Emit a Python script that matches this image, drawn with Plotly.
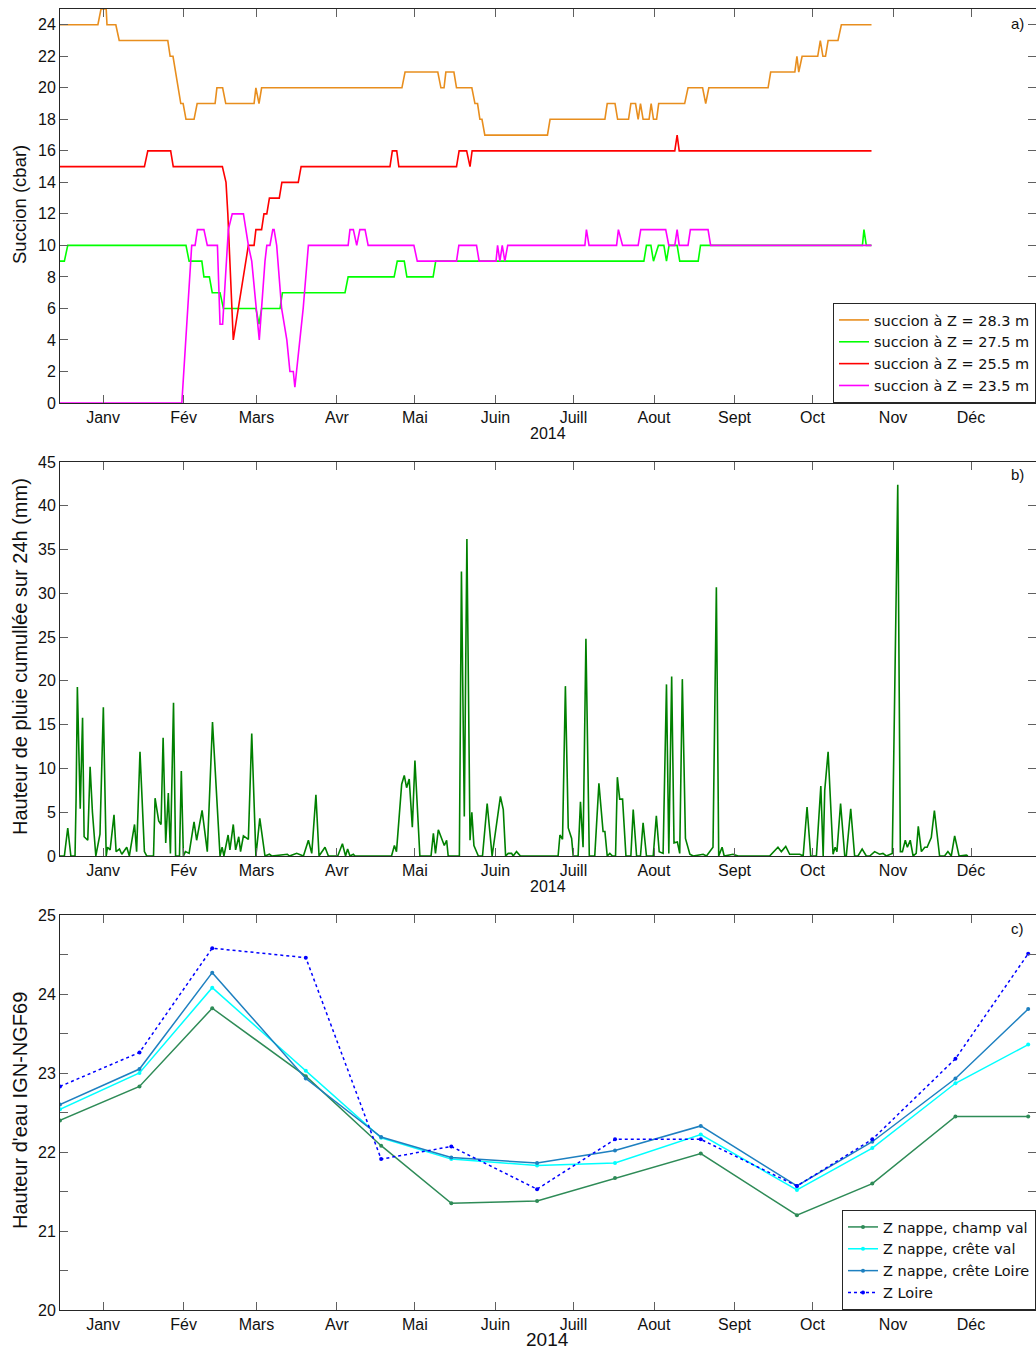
import plotly.graph_objects as go
import pandas as pd

BASE = pd.Timestamp("2014-01-01")

# ---------------- Panel a : succion (day offsets from 2014-01-01, values in cbar)
s283_day = [-16.8, -2.0, -0.8, 1.2, 1.5, 4.9, 6.2, 24.9, 25.8, 26.9, 29.9, 30.8, 31.9, 35.0, 36.2, 43.1, 43.8,
            46.0, 47.2, 58.1, 58.8, 60.0, 61.0, 115.0, 116.2, 128.8, 130.0, 131.2, 131.9, 135.0, 136.0, 141.9,
            143.1, 144.1, 145.0, 145.8, 146.9, 171.0, 172.0, 193.1, 194.0, 197.0, 198.0, 202.2, 203.1, 204.9,
            205.9, 206.8, 207.8, 210.1, 210.9, 211.8, 213.0, 213.8, 223.8, 225.1, 230.7, 231.9, 233.1, 255.9,
            256.9, 266.2, 267.0, 267.7, 269.0, 275.0, 276.0, 277.0, 278.0, 279.0, 282.8, 284.1, 295.7]
s283_val = [24, 24, 25, 25, 24, 24, 23, 23, 22, 22, 19, 19, 18, 18, 19, 19, 20,
            20, 19, 19, 20, 19, 20, 20, 21, 21, 20, 20, 21, 21, 20, 20,
            19, 19, 18, 18, 17, 17, 18, 18, 19, 19, 18, 18, 19, 19,
            18, 19, 18, 18, 19, 18, 18, 19, 19, 20, 20, 19, 20, 20,
            21, 21, 22, 21, 22, 22, 23, 22, 22, 23, 23, 24, 24]

s275_day = [-16.8, -14.9, -13.6, 31.9, 33.1, 38.0, 38.8, 40.9, 42.0, 45.0, 46.3, 58.8, 60.0, 61.0, 68.1, 69.0,
            93.1, 94.3, 112.0, 113.2, 115.9, 116.9, 127.0, 128.0, 208.1, 209.1, 210.8, 211.8, 213.7, 215.8,
            216.8, 217.8, 220.9, 221.9, 229.0, 229.9, 292.2, 292.8, 293.7, 295.7]
s275_val = [9, 9, 10, 10, 9, 9, 8, 8, 7, 7, 6, 6, 5, 6, 6, 7,
            7, 8, 8, 9, 9, 8, 8, 9, 9, 10, 10, 9, 10, 10,
            9, 10, 10, 9, 9, 10, 10, 11, 10, 10]

s255_day = [-16.8, 15.9, 17.2, 26.0, 27.0, 45.9, 47.3, 48.0, 50.1, 55.9, 58.1, 58.8, 61.0, 61.9, 63.0, 64.0,
            67.8, 68.8, 75.1, 76.2, 110.4, 111.3, 113.0, 113.8, 136.0, 137.0, 139.9, 141.2, 142.0, 220.0,
            220.9, 221.7, 295.7]
s255_val = [15, 15, 16, 16, 15, 15, 14, 12, 4, 10, 10, 11, 11, 12, 12, 13,
            13, 14, 14, 15, 15, 16, 16, 15, 15, 16, 16, 15, 16, 16,
            17, 16, 16]

s235_day = [-16.8, 30.3, 34.1, 35.4, 36.3, 38.8, 40.1, 44.0, 45.0, 46.0, 48.2, 49.7, 54.0, 55.9, 57.2, 60.1,
            62.3, 63.0, 64.2, 65.3, 65.8, 66.8, 68.7, 70.7, 71.9, 73.2, 73.8, 75.8, 77.0, 79.0, 94.3, 95.0,
            96.3, 97.6, 98.8, 100.8, 102.0, 119.6, 120.9, 136.0, 136.9, 143.7, 144.7, 151.2, 151.8, 152.7,
            153.6, 154.6, 155.7, 185.4, 186.0, 187.0, 197.6, 198.3, 199.9, 205.9, 206.9, 216.5, 217.7, 220.0,
            220.9, 221.7, 225.1, 226.0, 232.8, 233.8, 295.7]
s235_val = [0, 0, 10, 10, 11, 11, 10, 10, 5, 5, 11, 12, 12, 10, 9, 4,
            9, 10, 10, 11, 11, 10, 6, 4, 2, 2, 1, 4, 6, 10, 10, 11,
            11, 10, 11, 11, 10, 10, 9, 9, 10, 10, 9, 9, 10, 9,
            10, 9, 10, 10, 11, 10, 10, 11, 10, 10, 11, 11, 10, 10,
            11, 10, 10, 11, 11, 10, 10]

suction_names = ["succion à Z = 28.3 m", "succion à Z = 27.5 m", "succion à Z = 25.5 m", "succion à Z = 23.5 m"]

# ---------------- Panel b : daily rain (day offsets from 2014-01-01, mm)
rain_day = [-16.8, -14.9, -13.6, -12.4, -10.8, -10.4, -9.9, -9.5, -8.8, -7.9, -7.3, -5.9, -5.0, -4.1, -2.8,
            -1.2, 0.1, 1.2, 1.7, 2.7, 4.2, 5.0, 6.3, 7.2, 9.1, 10.1, 12.1, 12.9, 14.2, 15.9, 16.8, 19.4, 20.0,
            21.4, 22.3, 23.1, 24.1, 25.1, 25.9, 27.1, 27.9, 29.4, 30.1, 30.9, 31.7, 33.1, 35.0, 36.0, 38.1,
            40.1, 42.1, 45.0, 45.8, 46.5, 48.1, 48.8, 50.1, 51.0, 52.2, 52.9, 54.0, 55.9, 57.2, 58.8, 60.3,
            62.3, 64.0, 64.9, 70.9, 71.7, 74.5, 77.1, 79.0, 80.3, 81.9, 83.1, 85.4, 86.7, 90.3, 92.1, 93.3,
            94.1, 95.0, 96.3, 96.9, 111.0, 112.1, 112.9, 114.9, 115.9, 116.8, 117.8, 119.0, 120.0, 121.9,
            126.2, 127.1, 127.9, 129.0, 131.3, 132.2, 132.8, 137.1, 137.9, 139.0, 140.0, 141.2, 141.9, 142.7,
            144.4, 146.0, 147.8, 149.7, 152.9, 154.0, 154.9, 155.9, 157.2, 157.8, 159.1, 160.6, 175.1, 175.8,
            176.8, 177.9, 179.0, 180.3, 180.9, 182.8, 183.7, 184.7, 185.8, 187.1, 189.2, 190.8, 192.4, 193.1,
            194.0, 195.0, 196.0, 197.2, 197.9, 198.8, 199.9, 201.2, 203.1, 204.0, 205.3, 206.8, 207.8, 209.1,
            211.7, 212.9, 214.0, 215.5, 216.8, 217.7, 218.8, 219.7, 221.0, 221.9, 222.9, 224.1, 225.8, 227.1,
            230.9, 232.2, 234.7, 236.0, 236.9, 238.2, 239.0, 242.4, 244.4, 256.5, 259.7, 261.0, 262.7, 264.2,
            268.1, 269.4, 270.9, 272.3, 274.5, 276.2, 277.1, 277.7, 279.0, 279.9, 280.9, 281.7, 282.4, 283.8,
            285.4, 286.0, 287.7, 289.2, 290.5, 292.1, 293.7, 295.0, 296.9, 298.8, 300.1, 301.4, 303.7, 305.3,
            305.8, 306.8, 307.6, 308.7, 309.5, 310.6, 311.7, 312.9, 313.7, 314.9, 316.2, 317.1, 318.7, 319.9,
            321.9, 323.8, 325.1, 326.4, 327.7, 329.4, 332.2, 332.8]
rain_mm = [0, 0, 3.2, 0, 0, 6.4, 19.3, 13.0, 5.4, 15.8, 2.2, 1.8, 10.2, 5.0, 0,
           2.5, 17.0, 0, 1.0, 0.7, 4.7, 0.5, 0.8, 0.2, 1.0, 0, 3.6, 0.5, 11.9, 0.5, 0, 0, 6.6,
           4.0, 3.6, 13.5, 1.5, 7.2, 0.3, 17.5, 0, 0, 9.7, 0, 0.5, 0.3, 3.9, 1.8, 5.2,
           0.5, 15.3, 0, 1.0, 0, 2.4, 0.7, 3.6, 0.7, 2.2, 0.5, 2.3, 1.9, 14.0, 0, 4.3,
           0, 0.2, 0, 0.2, 0, 0.3, 0, 1.8, 0.3, 7.0, 0, 1.0, 0, 0, 1.4, 0,
           0.8, 0, 0.2, 0, 0, 1.2, 0.5, 8.2, 9.2, 7.8, 8.8, 3.3, 10.9, 0,
           0, 2.6, 0.3, 3.0, 1.2, 1.8, 0, 0, 32.5, 4.5, 36.2, 1.8, 5.0, 1.2,
           0, 0, 6.0, 0, 6.8, 5.3, 0, 0.3, 0.3, 0, 0.5, 0, 0, 2.4,
           1.9, 19.4, 3.2, 2.0, 0, 0, 6.2, 1.0, 24.8, 0, 0, 8.3, 2.8, 2.8,
           0, 0.3, 0, 0, 9.0, 6.5, 6.5, 0, 0, 5.3, 0, 0, 3.8, 0,
           0, 4.6, 0.5, 0.3, 19.6, 0.3, 20.5, 1.5, 1.6, 0.3, 20.2, 2.0, 0.2, 0,
           0.2, 0, 1.0, 30.7, 0, 1.0, 0, 0.2, 0, 0, 1.0, 0.5, 1.1, 0.2,
           0.2, 0, 5.6, 0, 0, 8.0, 0, 7.5, 11.9, 7.0, 0.2, 1.0, 0.5, 6.0,
           0, 0, 5.4, 0, 0, 0.8, 0, 0, 0.5, 0.2, 0.3, 0, 0.3, 32.0,
           42.4, 0.5, 0.5, 1.8, 1.0, 1.8, 0, 0.3, 3.4, 0.5, 1.0, 1.0, 2.1, 5.2,
           0, 0, 0.5, 0, 2.3, 0, 0.1, 0]

# ---------------- Panel c : water levels (IGN-NGF69)
lvl_dates = ["2013-12-15 10:00", "2014-01-15 00:00", "2014-02-12 00:00", "2014-03-20 00:00",
             "2014-04-18 00:00", "2014-05-15 00:00", "2014-06-17 00:00", "2014-07-17 00:00",
             "2014-08-19 00:00", "2014-09-25 00:00", "2014-10-24 00:00", "2014-11-25 00:00", "2014-12-23 00:00"]
champ_val = [22.40, 22.83, 23.82, 22.96, 22.08, 21.35, 21.38, 21.67, 21.98, 21.20, 21.60, 22.45, 22.45]
crete_val = [22.54, 23.00, 24.08, 23.03, 22.18, 21.91, 21.83, 21.86, 22.22, 21.52, 22.05, 22.87, 23.36]
crete_loire = [22.60, 23.05, 24.27, 22.93, 22.19, 21.93, 21.86, 22.02, 22.33, 21.57, 22.13, 22.93, 23.81]
z_loire = [22.83, 23.26, 24.58, 24.46, 21.91, 22.07, 21.53, 22.16, 22.16, 21.57, 22.16, 23.18, 24.51]

month_ticks = ["2014-%02d-01" % m for m in range(1, 13)]
month_labels = ["Janv", "Fév", "Mars", "Avr", "Mai", "Juin", "Juill", "Aout", "Sept", "Oct", "Nov", "Déc"]


def to_dates(days):
    return [BASE + pd.Timedelta(days=float(d)) for d in days]


FONT = "Liberation Sans, Arial, sans-serif"
LEG_FONT = "DejaVu Sans, Liberation Sans, sans-serif"
W, H = 1036, 1349

fig = go.Figure()

# panel a
for d, v, name, col in zip([s283_day, s275_day, s255_day, s235_day],
                           [s283_val, s275_val, s255_val, s235_val],
                           suction_names,
                           ["#E88E1E", "#00FF00", "#FF0000", "#FF00FF"]):
    fig.add_trace(go.Scatter(x=to_dates(d), y=v, mode="lines", name=name,
                             line=dict(color=col, width=1.6), xaxis="x", yaxis="y", legend="legend"))

# panel b
fig.add_trace(go.Scatter(x=to_dates(rain_day), y=rain_mm, mode="lines", showlegend=False,
                         line=dict(color="#008000", width=1.6), xaxis="x2", yaxis="y2"))

# panel c
lvl_x = [pd.Timestamp(s) for s in lvl_dates]
for vals, name, col, dash in [(champ_val, "Z nappe, champ val", "#2E8B57", "solid"),
                              (crete_val, "Z nappe, crête val", "#00FFFF", "solid"),
                              (crete_loire, "Z nappe, crête Loire", "#1E80C0", "solid"),
                              (z_loire, "Z Loire", "#0000FF", "dot")]:
    fig.add_trace(go.Scatter(x=lvl_x, y=vals, mode="lines+markers", name=name,
                             line=dict(color=col, width=1.5, dash=dash),
                             marker=dict(color=col, size=4),
                             xaxis="x3", yaxis="y3", legend="legend2"))


def py(p):
    return 1 - p / H


xr = ["2013-12-15 10:00", "2014-12-26 00:00"]
axis_common = dict(showline=True, linecolor="#262626", linewidth=1, mirror="ticks", ticks="inside",
                   ticklen=8, tickcolor="#606060", tickwidth=1, showgrid=False, zeroline=False,
                   automargin=False, tickfont=dict(size=16, color="#111111", family=FONT))

xdom = [60 / W, 1.0]
for i, (top, bot) in enumerate([(9, 403), (462, 856), (915, 1310)], start=1):
    sfx = "" if i == 1 else str(i)
    fig.layout["xaxis" + sfx] = dict(axis_common, domain=xdom, type="date", range=xr,
                                     tickvals=month_ticks, ticktext=month_labels,
                                     anchor="y" + sfx)
    fig.layout["yaxis" + sfx] = dict(axis_common, domain=[py(bot), py(top)], anchor="x" + sfx)

fig.layout.yaxis.update(range=[0, 25], tickvals=list(range(0, 25, 2)))
fig.layout.yaxis2.update(range=[0, 45], tickvals=list(range(0, 46, 5)))
fig.layout.yaxis3.update(range=[20, 25], tickvals=[20 + 0.5 * k for k in range(11)],
                         ticktext=[str(20 + k // 2) if k % 2 == 0 else "" for k in range(11)])

legend_common = dict(xanchor="right", x=1.0, yanchor="bottom", bgcolor="white", bordercolor="#262626",
                     borderwidth=1, font=dict(size=14.5, color="#111111", family=LEG_FONT), tracegroupgap=0,
                     itemwidth=30)
fig.layout.legend = dict(legend_common, y=py(403))
fig.layout.legend2 = dict(legend_common, y=py(1310))

ann = []
for label, yc in [("2014", 433), ("2014", 886)]:
    ann.append(dict(text=label, x=548 / W, y=py(yc), xref="paper", yref="paper", showarrow=False,
                    xanchor="center", yanchor="middle", font=dict(size=16, color="#111111", family=FONT)))
ann.append(dict(text="2014", x=547 / W, y=py(1339.5), xref="paper", yref="paper", showarrow=False,
                xanchor="center", yanchor="middle", borderpad=0,
                font=dict(size=19, color="#111111", family=FONT)))
for label, yc in [("a)", 23), ("b)", 475), ("c)", 928)]:
    ann.append(dict(text=label, x=1026 / W, y=py(yc), xref="paper", yref="paper", showarrow=False,
                    xanchor="right", yanchor="middle", font=dict(size=15, color="#111111", family=FONT)))
for label, yc, size in [("Succion (cbar)", 205, 18.5),
                        ("Hauteur de pluie cumullée sur 24h (mm)", 657, 20),
                        ("Hauteur d'eau IGN-NGF69", 1111, 20)]:
    ann.append(dict(text=label, x=20 / W, y=py(yc), xref="paper", yref="paper", showarrow=False,
                    textangle=-90, xanchor="center", yanchor="middle",
                    font=dict(size=size, color="#111111", family=FONT)))

fig.update_layout(width=W, height=H, margin=dict(l=0, r=0, t=0, b=0), autosize=False,
                  paper_bgcolor="white", plot_bgcolor="white", annotations=ann,
                  font=dict(family=FONT, size=16, color="#111111"))

fig.write_html("out.html", config={"displayModeBar": False},
               post_script="document.body.style.margin='0';")
